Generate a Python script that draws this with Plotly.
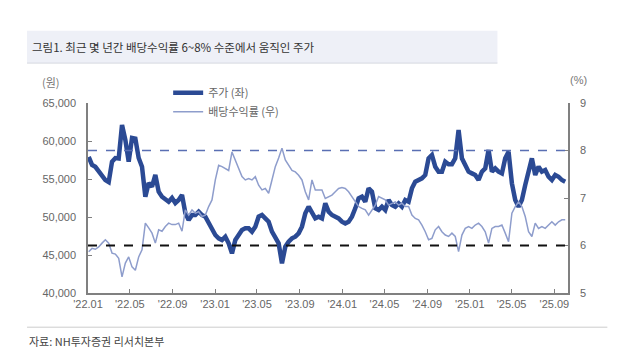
import pandas as pd
import plotly.graph_objects as go

start_date = "2022-01-03"
end_date = "2025-10-02"

price = [57900, 56850, 56600, 55960, 55530, 54870, 54600, 57280, 57760, 57700,
         62100, 60130, 57280, 60400, 60300, 57760, 56620, 52670, 54470, 53990,
         55530, 53330, 52670, 52240, 52010, 52500, 51840, 52240, 52900, 50530,
         49600, 50260, 50260, 50700, 50260, 50040, 49300, 48510, 47630, 47190,
         46970, 47410, 46540, 45220, 46970, 47630, 48290, 48510, 48510, 48070,
         48730, 50040, 50260, 49820, 49380, 48070, 47410, 46540, 43900, 46090,
         46750, 47190, 47410, 47850, 48730, 50480, 51360, 50480, 49820, 50040,
         49820, 51800, 50700, 50260, 50040, 49820, 49380, 49160, 49380, 50040,
         51140, 52460, 52680, 52010, 53770, 53330, 51140, 50920, 51360, 50920,
         52240, 51580, 51360, 51800, 51360, 52240, 52010, 53770, 54650, 54870,
         55090, 55530, 57720, 58160, 56620, 55960, 55960, 57280, 56950, 56950,
         57720, 61450, 57720, 56840, 55960, 55740, 55530, 54870, 55960, 56400,
         58820, 55960, 56400, 55960, 55740, 57720, 58600, 54430, 52240, 51360,
         52240, 54210, 56180, 57720, 55530, 56620, 55960, 56180, 55300, 54870,
         55530, 55300, 54870, 54650]

dividend_yield = [5.87, 5.94, 5.92, 5.97, 6.05, 6.12, 6.05, 5.84, 5.82, 5.73,
                  5.34, 5.63, 5.76, 5.55, 5.48, 5.76, 5.91, 6.47, 6.37, 6.26,
                  6.05, 6.33, 6.30, 6.40, 6.47, 6.44, 6.44, 6.47, 6.30, 6.75,
                  6.64, 6.75, 6.68, 6.71, 6.61, 6.64, 6.82, 6.96, 7.38, 7.69,
                  7.66, 7.62, 7.58, 7.97, 7.80, 7.62, 7.45, 7.38, 7.41, 7.38,
                  7.45, 7.27, 7.17, 7.20, 7.10, 7.38, 7.66, 7.84, 8.05, 7.80,
                  7.69, 7.58, 7.55, 7.48, 7.38, 7.13, 6.96, 7.38, 7.17, 7.17,
                  7.17, 6.99, 7.03, 7.06, 7.13, 7.20, 7.22, 7.20, 7.13, 7.03,
                  6.92, 6.82, 6.78, 6.75, 6.64, 6.75, 6.85, 7.03, 7.00, 6.96,
                  6.85, 6.89, 6.92, 6.85, 6.89, 6.82, 6.82, 6.64, 6.57, 6.54,
                  6.43, 6.29, 6.12, 6.15, 6.33, 6.40, 6.29, 6.22, 6.19, 6.26,
                  6.19, 5.87, 6.22, 6.36, 6.40, 6.36, 6.43, 6.47, 6.40, 6.29,
                  6.05, 6.36, 6.40, 6.40, 6.43, 6.26, 6.08, 6.68, 6.82, 6.92,
                  6.82, 6.61, 6.29, 6.19, 6.47, 6.36, 6.40, 6.36, 6.43, 6.50,
                  6.43, 6.50, 6.54, 6.54]

tick_dates = ["2022-01-01", "2022-05-01", "2022-09-01", "2023-01-01", "2023-05-01",
              "2023-09-01", "2024-01-01", "2024-05-01", "2024-09-01", "2025-01-01",
              "2025-05-01", "2025-09-01"]
tick_labels = ["'22.01", "'22.05", "'22.09", "'23.01", "'23.05", "'23.09", "'24.01",
               "'24.05", "'24.09", "'25.01", "'25.05", "'25.09"]
band_levels = [8, 6]

dates = pd.date_range(start_date, end_date, periods=len(price))

NUM_FONT = "Arial, 'Liberation Sans', 'Noto Sans CJK KR', sans-serif"
KR_FONT = "'Noto Sans CJK KR', 'Malgun Gothic', sans-serif"

fig = go.Figure()
fig.add_trace(go.Scatter(x=dates, y=price, name="주가 (좌)", mode="lines",
                         line=dict(color="#2b4a94", width=4.5)))
fig.add_trace(go.Scatter(x=dates, y=dividend_yield, name="배당수익률 (우)", mode="lines",
                         yaxis="y2", line=dict(color="#8e9dcc", width=1.5)))

shapes = [
    dict(type="rect", xref="paper", yref="paper", x0=-0.127, x1=0.853, y0=1.21, y1=1.38,
         fillcolor="#eef0f7", line=dict(width=0), layer="below"),
    dict(type="line", xref="paper", yref="paper", x0=-0.127, x1=0.853, y0=1.21, y1=1.21,
         line=dict(color="#d5d8e0", width=1)),
    dict(type="line", xref="paper", yref="paper", x0=-0.127, x1=1.082, y0=-0.18, y1=-0.18,
         line=dict(color="#cccccc", width=1)),
    dict(type="line", xref="paper", yref="y2", x0=0, x1=1, y0=band_levels[0], y1=band_levels[0],
         line=dict(color="#5a6fb3", width=1.5, dash="dash")),
    dict(type="line", xref="paper", yref="y2", x0=0, x1=1, y0=band_levels[1], y1=band_levels[1],
         line=dict(color="#111111", width=2, dash="dash")),
]

annotations = [
    dict(text="그림1. 최근 몇 년간 배당수익률 6~8% 수준에서 움직인 주가", xref="paper", yref="paper",
         x=-0.121, y=1.295, xanchor="left", yanchor="middle", showarrow=False,
         font=dict(family=KR_FONT, size=11.5, color="#333333")),
    dict(text="(원)", xref="paper", yref="paper", x=-0.1, y=1.11, xanchor="left",
         yanchor="middle", showarrow=False, font=dict(family=KR_FONT, size=11, color="#777777")),
    dict(text="(%)", xref="paper", yref="paper", x=1.0, y=1.12, xanchor="left",
         yanchor="middle", showarrow=False, font=dict(family=NUM_FONT, size=11, color="#777777")),
    dict(text="자료: NH투자증권 리서치본부", xref="paper", yref="paper", x=-0.127, y=-0.25,
         xanchor="left", yanchor="middle", showarrow=False,
         font=dict(family=KR_FONT, size=11, color="#444444")),
]

# the page body adds an 8px offset, so the margins are trimmed on the left/top
fig.update_layout(
    width=640, height=360,
    margin=dict(l=80, r=80, t=95, b=75),
    paper_bgcolor="white", plot_bgcolor="white",
    shapes=shapes, annotations=annotations,
    showlegend=True,
    legend=dict(x=0.167, y=1.13, xanchor="left", yanchor="top", bgcolor="rgba(0,0,0,0)",
                font=dict(family=KR_FONT, size=11, color="#666666"), tracegroupgap=0,
                itemwidth=30),
    xaxis=dict(range=["2022-01-01", "2025-10-10"], tickvals=tick_dates, ticktext=tick_labels,
               showgrid=False, zeroline=False, showline=True, linecolor="#808080", linewidth=1.5,
               ticks="inside", ticklen=4, tickcolor="#808080",
               tickfont=dict(family=NUM_FONT, size=11, color="#666666")),
    yaxis=dict(range=[40000, 65000], dtick=5000, tickformat=",", showgrid=False, zeroline=False,
               showline=True, linecolor="#808080", linewidth=1.5, ticks="inside", ticklen=4,
               tickcolor="#808080", ticklabelstandoff=8,
               tickfont=dict(family=NUM_FONT, size=11, color="#666666")),
    yaxis2=dict(range=[5, 9], dtick=1, overlaying="y", side="right", showgrid=False,
                zeroline=False, showline=True, linecolor="#808080", linewidth=1.5,
                ticks="inside", ticklen=4, tickcolor="#808080", ticklabelstandoff=8,
                tickfont=dict(family=NUM_FONT, size=11, color="#666666")),
)

fig.write_html("out.html")
